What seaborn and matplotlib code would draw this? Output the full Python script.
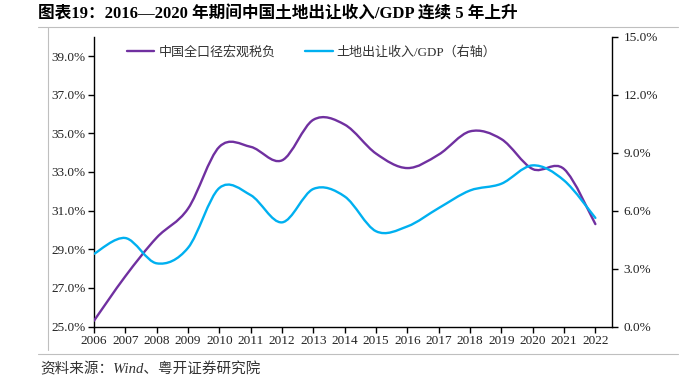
import matplotlib
matplotlib.use("Agg")
import matplotlib.pyplot as plt
from matplotlib.path import Path
from matplotlib.patches import PathPatch
from matplotlib.lines import Line2D
from matplotlib.ticker import PercentFormatter, FixedLocator
import seaborn as sns

years = list(range(2006, 2023))
tax_burden = [25.3, 27.6, 29.6, 31.1, 34.3, 34.3, 33.6, 35.7, 35.45, 33.95,
              33.2, 33.9, 35.1, 34.7, 33.15, 33.15, 30.3]
land_gdp = [3.76, 4.58, 3.27, 4.07, 7.17, 6.8, 5.39, 7.12, 6.73, 4.93,
            5.18, 6.13, 7.04, 7.39, 8.34, 7.56, 5.62]
label_tax = "中国全口径宏观税负"
label_land = "土地出让收入/GDP（右轴）"
title = "图表19：2016—2020 年期间中国土地出让收入/GDP 连续 5 年上升"
source = "资料来源：Wind、粤开证券研究院"

PURPLE = "#7030A0"
CYAN = "#00B0F0"
SERIF = ["Liberation Serif", "Noto Sans CJK SC"]


def smooth_path(x, y):
    # excel-style smoothed line: cubic bezier through every point
    pts = list(zip(x, y))
    n = len(pts)
    verts = [pts[0]]
    codes = [Path.MOVETO]
    for i in range(n - 1):
        p0 = pts[max(i - 1, 0)]
        p1 = pts[i]
        p2 = pts[i + 1]
        p3 = pts[min(i + 2, n - 1)]
        c1 = (p1[0] + (p2[0] - p0[0]) / 6, p1[1] + (p2[1] - p0[1]) / 6)
        c2 = (p2[0] - (p3[0] - p1[0]) / 6, p2[1] - (p3[1] - p1[1]) / 6)
        verts += [c1, c2, p2]
        codes += [Path.CURVE4] * 3
    return Path(verts, codes)


sns.set_theme(style="white")
plt.rcParams["font.family"] = SERIF
plt.rcParams["axes.unicode_minus"] = False

fig = plt.figure(figsize=(6.94, 3.81), dpi=100)
ax = fig.add_axes([94 / 694, 1 - 326.5 / 381, (612.3 - 94) / 694, (326.5 - 36.7) / 381])
ax2 = ax.twinx()

ax.add_patch(PathPatch(smooth_path(years, tax_burden), fill=False,
                       edgecolor=PURPLE, lw=1.7, capstyle="round", zorder=3))
ax2.add_patch(PathPatch(smooth_path(years, land_gdp), fill=False,
                        edgecolor=CYAN, lw=1.7, capstyle="round", zorder=3))

ax.set_xlim(2006, 2022.54)
ax.set_ylim(25, 40)
ax2.set_ylim(0, 15)

ax.xaxis.set_major_locator(FixedLocator(years))
ax.set_xticklabels([str(y) for y in years])
ax.set_yticks([25, 27, 29, 31, 33, 35, 37, 39])
ax2.set_yticks([0, 3, 6, 9, 12, 15])
ax.yaxis.set_major_formatter(PercentFormatter(decimals=1))
ax2.yaxis.set_major_formatter(PercentFormatter(decimals=1))

for a in (ax, ax2):
    a.grid(False)
    a.spines["top"].set_visible(False)
    for s in ("left", "right", "bottom"):
        a.spines[s].set_color("black")
        a.spines[s].set_linewidth(1.0)
    a.tick_params(axis="both", which="major", direction="out", length=4,
                  width=1, color="black", labelsize=9.5, labelcolor="#222222",
                  pad=2)
ax.spines["right"].set_visible(False)
ax2.spines["left"].set_visible(False)
ax2.spines["bottom"].set_visible(False)
ax.tick_params(axis="y", left=True, right=False)
ax.tick_params(axis="x", bottom=True)
ax2.tick_params(axis="y", right=True, left=False, pad=4)

handles = [Line2D([], [], color=PURPLE, lw=1.7), Line2D([], [], color=CYAN, lw=1.7)]
leg = ax.legend(handles, [label_tax, label_land], ncol=2, frameon=False,
                loc="center left", bbox_to_anchor=(127 / 694, 1 - 52 / 381),
                bbox_transform=fig.transFigure, borderaxespad=0, borderpad=0,
                handlelength=2.1, handletextpad=0.3, columnspacing=2.3,
                prop={"family": SERIF, "size": 9.4})
for t in leg.get_texts():
    t.set_color("#333333")

fig.text(38 / 694, 1 - 14 / 381, title, family=SERIF, weight="bold",
         fontsize=12, va="center", ha="left", color="black")
fig.text(40 / 694, 1 - 369 / 381, source, family=SERIF, style="italic",
         fontsize=10.5, va="center", ha="left", color="#333333")

frame = "#BFBFBF"
fig.add_artist(Line2D([38 / 694, 678 / 694], [1 - 27 / 381, 1 - 27 / 381],
                      transform=fig.transFigure, color=frame, lw=0.8))
fig.add_artist(Line2D([48 / 694, 48 / 694], [1 - 27 / 381, 1 - 350 / 381],
                      transform=fig.transFigure, color=frame, lw=0.8))
fig.add_artist(Line2D([38 / 694, 678 / 694], [1 - 354 / 381, 1 - 354 / 381],
                      transform=fig.transFigure, color=frame, lw=0.8))

fig.savefig("out.png", dpi=100)
plt.close(fig)
